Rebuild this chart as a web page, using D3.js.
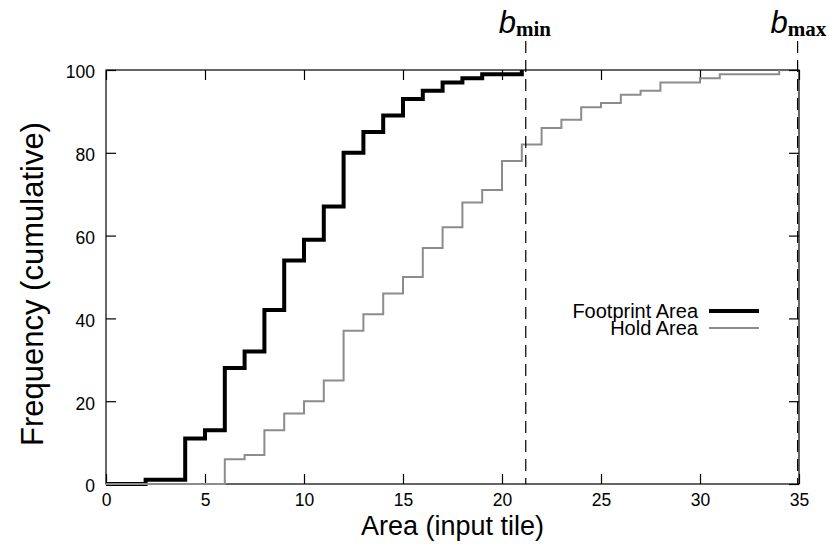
<!DOCTYPE html>
<html>
<head>
<meta charset="utf-8">
<script src="https://cdn.jsdelivr.net/npm/d3@7"></script>
<style>
  html, body { margin: 0; padding: 0; background: #fff; }
  svg { display: block; }
  text { font-family: "Liberation Sans", Arial, Helvetica, sans-serif; fill: #000; }
</style>
</head>
<body>
<svg id="chart" width="829" height="545"></svg>
<script>
// Cumulative frequency (%) by area, sampled at integer areas
const footprintArea = [0, 1, 2, 3, 4, 5, 6, 7, 8, 9, 10, 11, 12, 13, 14, 15, 16, 17, 18, 19, 20, 21];
const footprintFreq = [0, 0, 1, 1, 11, 13, 28, 32, 42, 54, 59, 67, 80, 85, 89, 93, 95, 97, 98, 99, 99, 100];

const holdArea = [0, 1, 2, 3, 4, 5, 6, 7, 8, 9, 10, 11, 12, 13, 14, 15, 16, 17, 18, 19, 20,
                  21, 22, 23, 24, 25, 26, 27, 28, 29, 30, 31, 32, 33, 34];
const holdFreq = [0, 0, 0, 0, 0, 0, 6, 7, 13, 17, 20, 25, 37, 41, 46, 50, 57, 62, 68, 71, 78,
                  82, 86, 88, 91, 92, 94, 95, 97, 97, 98, 99, 99, 99, 100];

const seriesNames = ["Footprint Area", "Hold Area"];

// Bounds marked with vertical dashed lines
const boundNames = ["min", "max"];
const boundValues = [21.2, 34.93];

const xTicks = [0, 5, 10, 15, 20, 25, 30, 35];
const yTicks = [0, 20, 40, 60, 80, 100];

const svg = d3.select("#chart");
const plot = { left: 106, right: 799, top: 70, bottom: 484 };

const x = d3.scaleLinear().domain([0, 35]).range([plot.left, plot.right]);
const y = d3.scaleLinear().domain([0, 100]).range([plot.bottom, plot.top]);

const tickLen = 10;

// Frame
svg.append("rect")
  .attr("x", plot.left).attr("y", plot.top)
  .attr("width", plot.right - plot.left).attr("height", plot.bottom - plot.top)
  .attr("fill", "none").attr("stroke", "#000").attr("stroke-width", 1.2);

// Inward ticks on all four sides (mirrored)
const axisBottom = d3.axisBottom(x).tickValues(xTicks).tickSize(-tickLen).tickPadding(10);
const axisTop = d3.axisTop(x).tickValues(xTicks).tickSize(-tickLen).tickFormat("");
const axisLeft = d3.axisLeft(y).tickValues(yTicks).tickSize(-tickLen).tickPadding(11);
const axisRight = d3.axisRight(y).tickValues(yTicks).tickSize(-tickLen).tickFormat("");

function styleAxis(g) {
  g.select(".domain").remove();
  g.selectAll(".tick line").attr("stroke", "#000").attr("stroke-width", 1.2);
  g.selectAll(".tick text").attr("font-family", "Liberation Sans, Arial, sans-serif")
    .attr("font-size", 17.5).attr("fill", "#000");
}

svg.append("g").attr("transform", `translate(0,${plot.bottom})`).call(axisBottom).call(styleAxis);
svg.append("g").attr("transform", `translate(0,${plot.top})`).call(axisTop).call(styleAxis);
svg.append("g").attr("transform", `translate(${plot.left},0)`).call(axisLeft).call(styleAxis)
  .selectAll(".tick text").attr("dy", "0.45em");
svg.append("g").attr("transform", `translate(${plot.right},0)`).call(axisRight).call(styleAxis);

// Axis titles
svg.append("text")
  .attr("x", (plot.left + plot.right) / 2).attr("y", 535)
  .attr("text-anchor", "middle").attr("font-size", 27)
  .text("Area (input tile)");

svg.append("text")
  .attr("transform", `translate(43,284) rotate(-90)`)
  .attr("text-anchor", "middle").attr("font-size", 31)
  .text("Frequency (cumulative)");

// Step curves
const line = d3.line().curve(d3.curveStepAfter);

const footprintPts = footprintArea.map((a, i) => [x(a), y(footprintFreq[i])]);
const holdPts = holdArea.map((a, i) => [x(a), y(holdFreq[i])]);

svg.append("path")
  .attr("d", line(footprintPts))
  .attr("fill", "none").attr("stroke", "#000").attr("stroke-width", 4)
  .attr("stroke-linejoin", "miter").attr("stroke-linecap", "butt");

svg.append("path")
  .attr("d", line(holdPts))
  .attr("fill", "none").attr("stroke", "#8c8c8c").attr("stroke-width", 2)
  .attr("stroke-linejoin", "miter").attr("stroke-linecap", "butt");

// Bound markers with labels above the frame
boundValues.forEach((v, i) => {
  svg.append("line")
    .attr("x1", x(v)).attr("x2", x(v))
    .attr("y1", 41).attr("y2", plot.bottom)
    .attr("stroke", "#000").attr("stroke-width", 1.2)
    .attr("stroke-dasharray", "12,7");

  const t = svg.append("text")
    .attr("x", x(v) - 27).attr("y", 33)
    .attr("font-family", "Liberation Serif, Times New Roman, serif");
  t.append("tspan").attr("font-style", "italic").attr("font-size", 31).text("b");
  t.append("tspan").attr("font-weight", "bold").attr("font-size", 21).attr("dy", 3)
    .attr("font-family", "Liberation Serif, Times New Roman, serif")
    .text(boundNames[i]);
});

// Legend
const legend = [
  { name: seriesNames[0], color: "#000", width: 4 },
  { name: seriesNames[1], color: "#8c8c8c", width: 2 }
];
legend.forEach((d, i) => {
  const ly = 311 + i * 17;
  svg.append("text")
    .attr("x", 698).attr("y", ly).attr("dy", "0.36em")
    .attr("text-anchor", "end").attr("font-size", 20)
    .text(d.name);
  svg.append("line")
    .attr("x1", 709).attr("x2", 759).attr("y1", ly).attr("y2", ly)
    .attr("stroke", d.color).attr("stroke-width", d.width);
});
</script>
</body>
</html>
